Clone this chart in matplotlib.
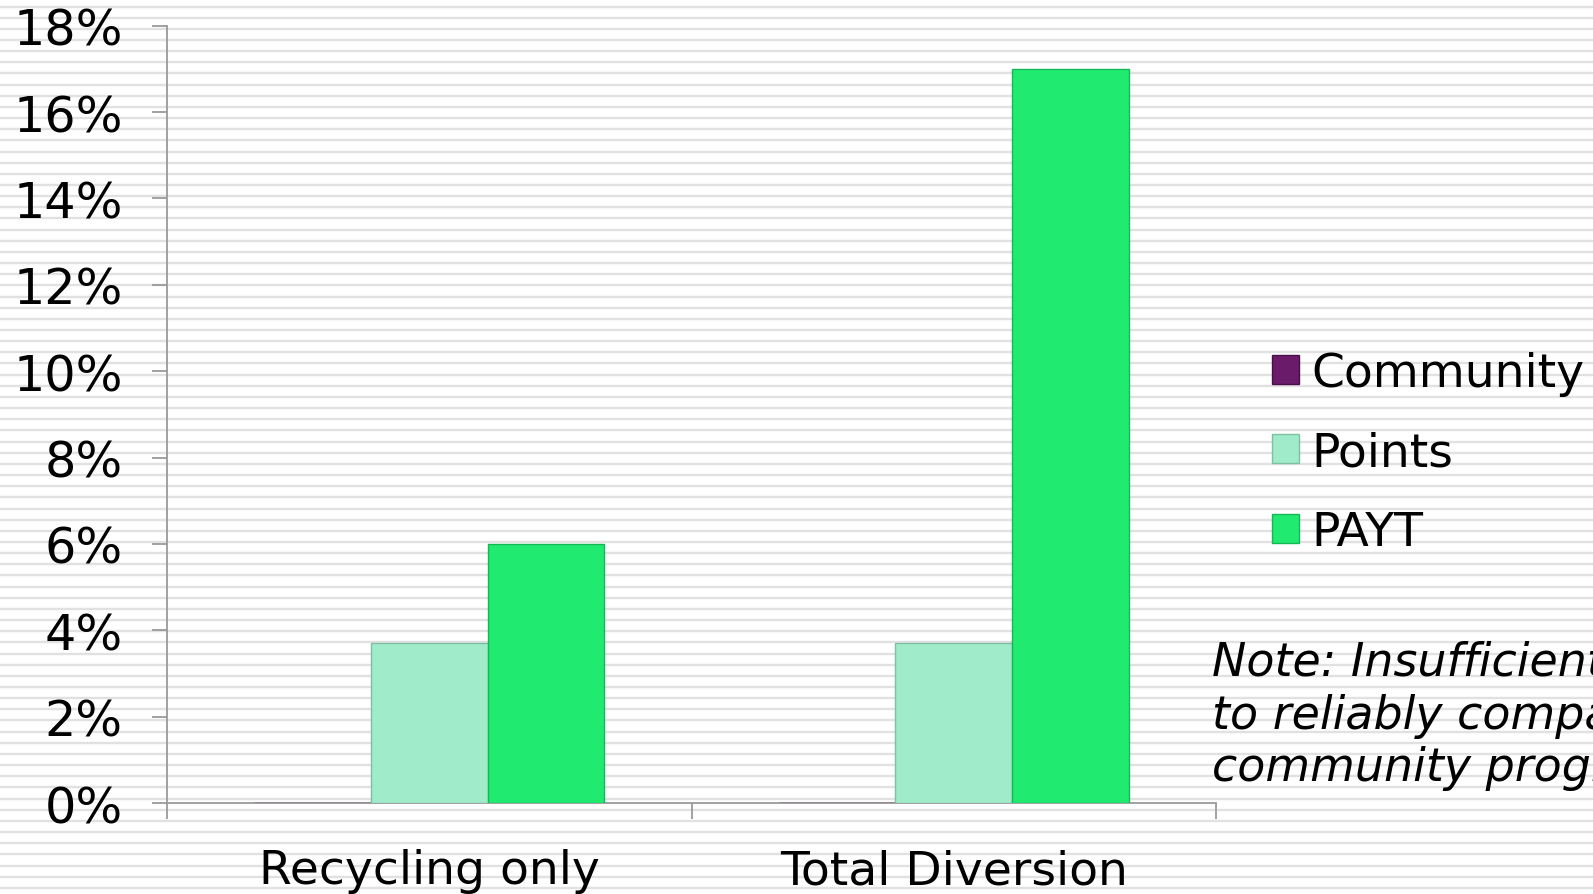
import numpy as np
import matplotlib
matplotlib.use('Agg')
import matplotlib.pyplot as plt
from matplotlib.patches import Patch
from matplotlib.ticker import PercentFormatter

categories = ['Recycling only', 'Total Diversion']
series_names = ['Community', 'Points', 'PAYT']
community = [0.0, 0.0]
points = [0.037, 0.037]
payt = [0.06, 0.17]
series_values = [community, points, payt]
colors = ['#6a1b6a', '#a0ebc9', '#20eb70']
edges = ['#4a0f4a', '#7fbfa2', '#14b855']

note = 'Note: Insufficient data\nto reliably compare\ncommunity programs'

W, H = 1593, 895
fig = plt.figure(figsize=(W / 100, H / 100), dpi=100)
fig.patch.set_facecolor('white')

# striped background over the whole slide
bg = fig.add_axes([0, 0, 1, 1], zorder=0)
bg.set_xlim(0, 1)
bg.set_ylim(H, 0)
bg.axis('off')
stripe_y = np.arange(7.5, H, 11.156)
bg.hlines(stripe_y, 0, 1, colors='#e1e1e1', linewidth=1.7)

ax = fig.add_axes([167 / W, 1 - 804 / H, (1216 - 167) / W, (804 - 26.7) / H], zorder=1)
ax.set_facecolor('none')

x = np.arange(len(categories))
bw = 1 / 4.5
for i, (name, vals) in enumerate(zip(series_names, series_values)):
    ax.bar(x + (i - 1) * bw, vals, width=bw, color=colors[i],
           edgecolor=edges[i], linewidth=1.0, label=name, zorder=3)

ax.set_xlim(-0.5, 1.5)
ax.set_ylim(0, 0.18)
ax.set_yticks(np.arange(0, 0.181, 0.02))
ax.yaxis.set_major_formatter(PercentFormatter(1.0, decimals=0))

ax.set_xticks([-0.5, 0.5, 1.5])
ax.set_xticklabels([])
ax.set_xticks(x, minor=True)
ax.set_xticklabels(categories, minor=True)

for s in ['top', 'right']:
    ax.spines[s].set_visible(False)
for s in ['left', 'bottom']:
    ax.spines[s].set_color('#9a9a9a')
    ax.spines[s].set_linewidth(1.3)

ax.tick_params(axis='y', length=10.8, width=1.3, color='#9a9a9a', pad=21,
               labelsize=35.5)
ax.tick_params(axis='x', which='major', length=11.5, width=1.3, color='#9a9a9a')
ax.tick_params(axis='x', which='minor', length=0, pad=32.5, labelsize=34)

handles = [Patch(facecolor=c, edgecolor=e, linewidth=1.0) for c, e in zip(colors, edges)]
fig.legend(handles, series_names, loc='upper left',
           bbox_to_anchor=(1271.7 / W, 1 - 352 / H), frameon=False, fontsize=34,
           handlelength=0.57, handleheight=0.57, handletextpad=0.27,
           labelspacing=0.73, borderpad=0, borderaxespad=0)

fig.text(1211.7 / W, 1 - 641 / H, note, fontsize=33, style='italic',
         ha='left', va='top', linespacing=1.22)

fig.savefig('out.png', dpi=100)
